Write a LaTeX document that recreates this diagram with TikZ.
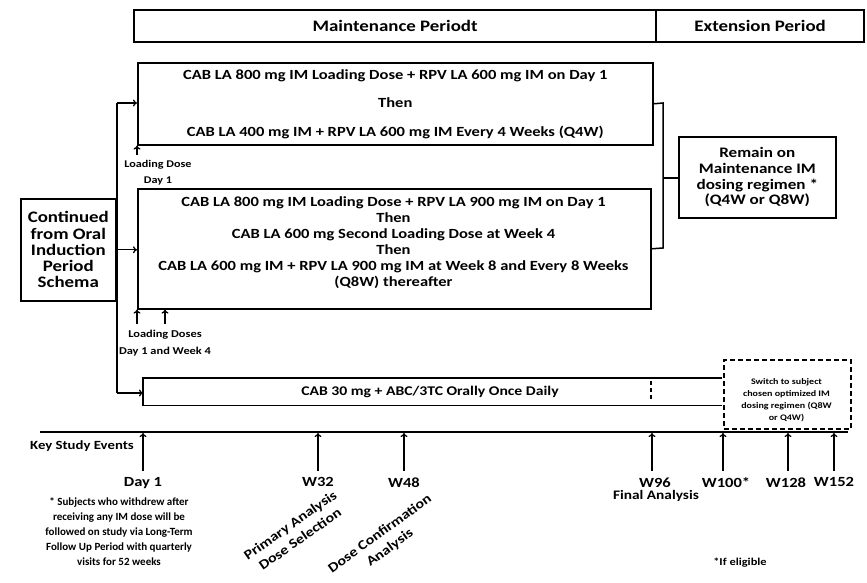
\documentclass[tikz,border=0pt]{standalone}
\usepackage{fontspec}
\setmainfont{Carlito}
\newfontfamily\fw[FakeStretch=1.18]{Carlito}
\usetikzlibrary{arrows.meta}
\begin{document}
\begin{tikzpicture}[x=1pt,y=-1pt,
  every node/.style={font=\bfseries},
  box/.style={draw, line width=1.6pt, anchor=north west, inner sep=0pt, align=center},
  conn/.style={line width=1.5pt},
  arr/.style={line width=1.3pt, -{To[length=4pt,width=7pt]}},
  fA/.style={font=\fw\bfseries\fontsize{14}{16}\selectfont},
  fS/.style={font=\fw\bfseries\fontsize{10.3}{15.5}\selectfont}]
\useasboundingbox (0,0) rectangle (867,583);

% header
\node[box, line width=2.2pt, minimum width=522pt, minimum height=32pt, font=\fw\bfseries\fontsize{16}{18}\selectfont] (maint) at (133,9) {Maintenance Periodt};
\node[box, line width=2.2pt, minimum width=208pt, minimum height=32pt, font=\fw\bfseries\fontsize{16}{18}\selectfont] (ext) at (655,9) {Extension Period};

% box 1
\node[box, minimum width=515pt, minimum height=82pt, font=\fw\bfseries\fontsize{14}{28.5}\selectfont] (b1) at (137,62)
  {CAB LA 800 mg IM Loading Dose + RPV LA 600 mg IM on Day 1\\Then\\CAB LA 400 mg IM + RPV LA 600 mg IM Every 4 Weeks (Q4W)};

% box 2
\node[box, minimum width=513pt, minimum height=120pt] (b2) at (137,188) {};
\node[fA, align=center] (b2t) at (393.5,242.5)
  {CAB LA 800 mg IM Loading Dose + RPV LA 900 mg IM on Day 1\\Then\\CAB LA 600 mg Second Loading Dose at Week 4\\Then\\CAB LA 600 mg IM + RPV LA 900 mg IM at Week 8 and Every 8 Weeks\\(Q8W) thereafter};

% continued box
\node[box, font=\fw\bfseries\fontsize{16}{16.3}\selectfont, minimum width=95pt, minimum height=102pt] (cont) at (20,198)
  {Continued\\from Oral\\Induction\\Period\\Schema};

% remain box
\node[box, font=\fw\bfseries\fontsize{14.5}{15.7}\selectfont, minimum width=157pt, minimum height=81pt] (rem) at (678,136)
  {Remain on\\Maintenance IM\\dosing regimen *\\(Q4W or Q8W)};

% oral box
\node[anchor=north west, inner sep=0pt, minimum width=579pt, minimum height=27pt] (oral) at (143,378) {};
\draw[conn] (oral.north east) -- (oral.north west) -- (oral.south west) -- (oral.south east);
\node[font=\fw\bfseries\fontsize{13.3}{16}\selectfont] (oralt) at (430,392) {CAB 30 mg + ABC/3TC Orally Once Daily};
\coordinate (d1) at (651,381);
\coordinate (d2) at (651,401);
\draw[line width=1.5pt, dash pattern=on 4pt off 3pt] (d1) -- (d2);

% dashed box
\node[box, dash pattern=on 5pt off 3pt, minimum width=127pt, minimum height=69pt] (sw) at (723,359) {};
\node[font=\fw\bfseries\fontsize{8.5}{12}\selectfont, align=center] (swt) at (786.5,400)
  {Switch to subject\\chosen optimized IM\\dosing regimen (Q8W\\or Q4W)};

% trunk and arrows
\coordinate (tT) at (117,103);
\coordinate (tB) at (117,393);
\draw[conn] (tT) -- (tB);
\draw[arr] (tT) -- (b1.west|-tT);
\draw[arr] (tB) -- (oral.west|-tB);
\draw[arr] (cont.east) -- (b2.west|-cont.east);

% bracket to remain
\coordinate (bk1) at (663,103);
\coordinate (bk2) at (663,248);
\coordinate (bk3) at (663,178);
\draw[conn] (b1.east) -- (bk1) -- (bk2) -- (b2.east);
\draw[conn] (bk3) -- (rem.west|-bk3);

% loading dose arrows
\coordinate (ld1) at (137,155);
\draw[arr] (ld1) -- (b1.south west);
\node[fS, align=center] (ld1t) at (158,172.5) {Loading Dose\\Day 1};
\coordinate (ld2a) at (137,324);
\coordinate (ld2b) at (165,324);
\draw[arr] (ld2a) -- (b2.south west);
\draw[arr] (ld2b) -- (ld2b|-b2.south);
\node[font=\fw\bfseries\fontsize{10.5}{17}\selectfont, align=center] (ld2t) at (165,343.5) {Loading Doses\\Day 1 and Week 4};

% timeline
\coordinate (tl0) at (40,432);
\coordinate (tl1) at (848,432);
\draw[line width=1.5pt] (tl0) -- (tl1);
\node[font=\fw\bfseries\fontsize{12.5}{14}\selectfont] (kse) at (82,446) {Key Study Events};

\foreach \x/\lx/\n/\t in {143/143/day1/Day 1, 318/318/w32/W32, 404/404/w48/W48, 652/655/w96/W96, 723/726/w100/W100*, 788/786/w128/W128, 834/834/w152/W152}{
  \coordinate (a\n) at (\x,471);
  \draw[arr] (a\n) -- (\x,433);
  \node[fA, anchor=north] (\n) at (\lx,474) {\t};
}
\node[font=\fw\bfseries\fontsize{13}{15}\selectfont] (fa) at (656,496) {Final Analysis};

\node[font=\fw\bfseries\fontsize{13.5}{17}\selectfont, align=center, rotate=35] (pa) at (295,532) {Primary Analysis\\Dose Selection};
\node[font=\fw\bfseries\fontsize{13.5}{17}\selectfont, align=center, rotate=36] (dc) at (385,541) {Dose Confirmation\\Analysis};

\node[font=\bfseries\fontsize{11}{15}\selectfont, align=center] (fn) at (119,532)
  {* Subjects who withdrew after\\receiving any IM dose will be\\followed on study via Long-Term\\Follow Up Period with quarterly\\visits for 52 weeks};
\node[font=\fw\bfseries\fontsize{10.5}{12}\selectfont] (ie) at (740,563) {*If eligible};
\end{tikzpicture}
\end{document}
